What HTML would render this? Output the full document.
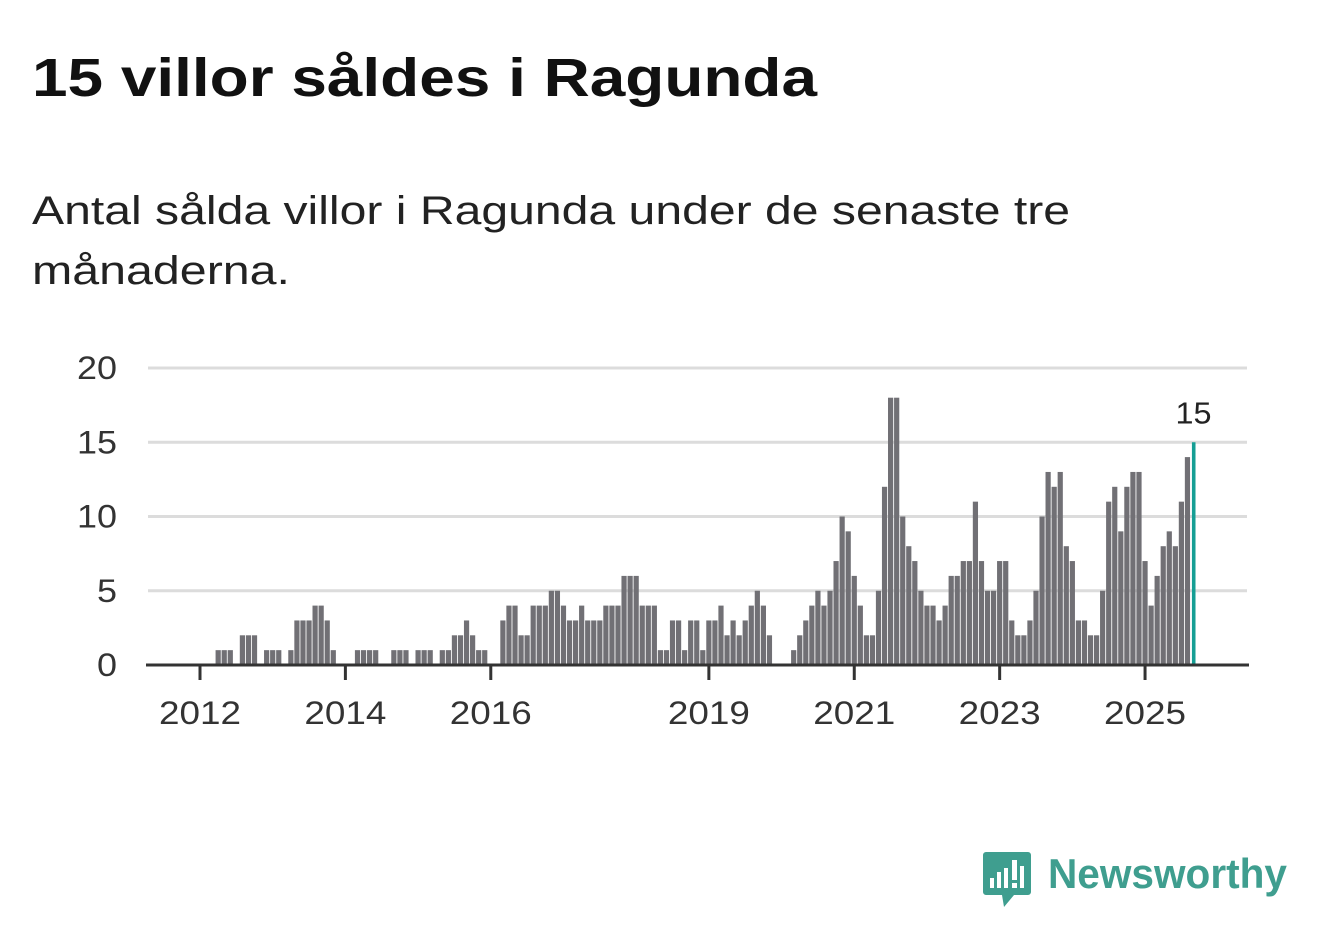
<!DOCTYPE html>
<html><head><meta charset="utf-8"><style>
body{margin:0;background:#fff;}
svg{display:block;font-family:"Liberation Sans",sans-serif;}
</style></head><body>
<svg width="1322" height="939" viewBox="0 0 1322 939">
<text x="32" y="96" font-size="54" font-weight="bold" fill="#111" textLength="785" lengthAdjust="spacingAndGlyphs">15 villor såldes i Ragunda</text>
<text x="32" y="224" font-size="40" fill="#222" textLength="1038" lengthAdjust="spacingAndGlyphs">Antal sålda villor i Ragunda under de senaste tre</text>
<text x="32" y="284" font-size="40" fill="#222" textLength="258" lengthAdjust="spacingAndGlyphs">månaderna.</text>
<g id="grid"></g>
<g id="bars"></g>
<g id="axes"></g>
<g>
<path d="M986 852 h42 a3 3 0 0 1 3 3 v37 a3 3 0 0 1 -3 3 h-14 l-10 12 l-2 -12 h-16 a3 3 0 0 1 -3 -3 v-37 a3 3 0 0 1 3 -3z" fill="#3f9e8f"/>
<rect x="990" y="878" width="4" height="10" fill="#fff"/><rect x="997" y="872" width="4" height="16" fill="#fff"/><rect x="1004" y="868" width="4" height="20" fill="#fff"/><rect x="1012" y="860" width="5" height="20" fill="#fff"/><rect x="1012" y="883" width="5" height="5" fill="#fff"/><rect x="1020" y="866" width="4" height="22" fill="#fff"/>
<text x="1048" y="888" font-size="42" font-weight="bold" fill="#3f9e8f" textLength="239" lengthAdjust="spacingAndGlyphs">Newsworthy</text>
</g>
</svg>
<script>
const startYear = 2012;
const values = [
0,0,0,1,1,1,0,2,2,2,0,1,
1,1,0,1,3,3,3,4,4,3,1,0,
0,0,1,1,1,1,0,0,1,1,1,0,
1,1,1,0,1,1,2,2,3,2,1,1,
0,0,3,4,4,2,2,4,4,4,5,5,
4,3,3,4,3,3,3,4,4,4,6,6,
6,4,4,4,1,1,3,3,1,3,3,1,
3,3,4,2,3,2,3,4,5,4,2,0,
0,0,1,2,3,4,5,4,5,7,10,9,
6,4,2,2,5,12,18,18,10,8,7,5,
4,4,3,4,6,6,7,7,11,7,5,5,
7,7,3,2,2,3,5,10,13,12,13,8,
7,3,3,2,2,5,11,12,9,12,13,13,
7,4,6,8,9,8,11,14,15];
const yTicks = [0,5,10,15,20];
const xTickYears = [2012,2014,2016,2019,2021,2023,2025];
const NS="http://www.w3.org/2000/svg";
const x = m => 200 + m*6.058;
const y = v => 665 - v*14.85;
function mk(tag, attrs, parent){const e=document.createElementNS(NS,tag);for(const k in attrs)e.setAttribute(k,attrs[k]);parent.appendChild(e);return e;}
const grid=document.getElementById('grid'), bars=document.getElementById('bars'), axes=document.getElementById('axes');
yTicks.forEach(t=>{
  if(t>0){const l=mk('line',{x1:148,x2:1247,y1:y(t),y2:y(t),stroke:'#dcdcdc','stroke-width':3},grid);
  
  }
  const s=String(t);
  const tx=mk('text',{x:117,y:y(t)+11,'font-size':32,fill:'#333','text-anchor':'end',textLength:s.length*20,lengthAdjust:'spacingAndGlyphs'},axes);
  tx.textContent=s;
  
  
});
values.forEach((v,i)=>{
  if(v<=0)return;
  const last=i===values.length-1;
  const r=mk('rect',{x:x(i)-(last?1.6:2.6),y:y(v),width:last?3.6:5.2,height:665-y(v),fill:last?'#159e94':'#717075'},bars);
  
  
  if(last){const lb=mk('text',{x:x(i),y:y(v)-19,'font-size':31,fill:'#222','text-anchor':'middle',textLength:36,lengthAdjust:'spacingAndGlyphs'},bars);
    lb.textContent=v;
    
    }
});
const base=mk('line',{x1:146,x2:1249,y1:665,y2:665,stroke:'#333','stroke-width':3},axes);


xTickYears.forEach(yr=>{
  const m=(yr-startYear)*12, xx=x(m);
  const tk=mk('line',{x1:xx,x2:xx,y1:665,y2:680,stroke:'#333','stroke-width':3},axes);
  
  
  const tx=mk('text',{x:xx,y:724,'font-size':32,fill:'#333','text-anchor':'middle',textLength:82,lengthAdjust:'spacingAndGlyphs'},axes);
  tx.textContent=yr;
  
  
});
</script>
</body></html>
